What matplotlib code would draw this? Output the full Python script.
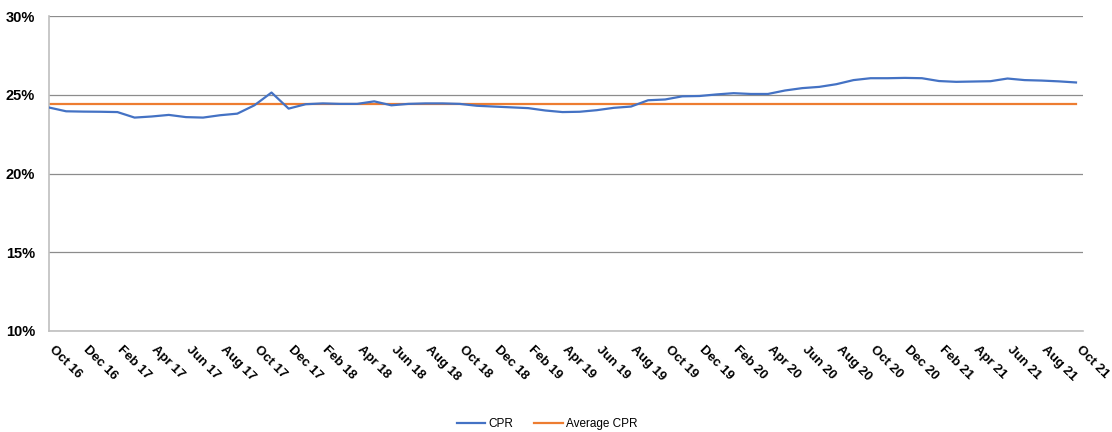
import matplotlib
matplotlib.use("Agg")
import matplotlib.pyplot as plt
from matplotlib.ticker import FuncFormatter
from matplotlib.transforms import ScaledTranslation

plt.rcParams['font.family'] = ['Liberation Sans', 'DejaVu Sans']

months = ["Oct 16", "Nov 16", "Dec 16", "Jan 17", "Feb 17", "Mar 17", "Apr 17", "May 17",
          "Jun 17", "Jul 17", "Aug 17", "Sep 17", "Oct 17", "Nov 17", "Dec 17", "Jan 18",
          "Feb 18", "Mar 18", "Apr 18", "May 18", "Jun 18", "Jul 18", "Aug 18", "Sep 18",
          "Oct 18", "Nov 18", "Dec 18", "Jan 19", "Feb 19", "Mar 19", "Apr 19", "May 19",
          "Jun 19", "Jul 19", "Aug 19", "Sep 19", "Oct 19", "Nov 19", "Dec 19", "Jan 20",
          "Feb 20", "Mar 20", "Apr 20", "May 20", "Jun 20", "Jul 20", "Aug 20", "Sep 20",
          "Oct 20", "Nov 20", "Dec 20", "Jan 21", "Feb 21", "Mar 21", "Apr 21", "May 21",
          "Jun 21", "Jul 21", "Aug 21", "Sep 21", "Oct 21"]

cpr = [24.19, 23.95, 23.93, 23.92, 23.90, 23.55, 23.62, 23.72, 23.58, 23.55,
       23.70, 23.80, 24.33, 25.14, 24.12, 24.40, 24.45, 24.42, 24.42, 24.58,
       24.33, 24.42, 24.45, 24.45, 24.42, 24.30, 24.25, 24.20, 24.15, 24.00,
       23.90, 23.92, 24.02, 24.17, 24.25, 24.65, 24.70, 24.90, 24.92, 25.02,
       25.10, 25.05, 25.05, 25.27, 25.42, 25.50, 25.67, 25.93, 26.05, 26.05,
       26.07, 26.05, 25.87, 25.82, 25.84, 25.86, 26.03, 25.93, 25.90, 25.85,
       25.78]

average_cpr = 24.44

fig = plt.figure(figsize=(11.12, 4.32), dpi=100)
ax = fig.add_axes([49 / 1112, 1 - 331 / 432, (1083 - 49) / 1112, (331 - 16) / 432])

x = list(range(len(months)))
ax.plot(x, cpr, color="#4472C4", lw=1.6, label="CPR", solid_joinstyle="round", zorder=3)
ax.plot(x, [average_cpr] * len(x), color="#ED7D31", lw=1.6, label="Average CPR", zorder=2)

ax.set_ylim(10, 30)
ax.set_xlim(0, len(months) - 1 + 0.41)
ax.set_yticks([10, 15, 20, 25, 30])
ax.yaxis.set_major_formatter(FuncFormatter(lambda v, p: f"{v:.0f}%"))
ax.grid(axis="y", color="#8c8c8c", lw=0.9)
ax.set_axisbelow(True)

for side in ["top", "right"]:
    ax.spines[side].set_visible(False)
ax.spines["left"].set_color("#bfbfbf")
ax.spines["bottom"].set_color("#bfbfbf")
ax.spines["left"].set_linewidth(1.2)
ax.spines["bottom"].set_linewidth(1.2)

ax.tick_params(axis="both", length=0)
ax.tick_params(axis="y", pad=10)
for lbl in ax.get_yticklabels():
    lbl.set_fontsize(10.5)
    lbl.set_fontweight("bold")

tick_pos = x[::2]
ax.set_xticks(tick_pos)
ax.set_xticklabels([months[i] for i in tick_pos], rotation=-45, ha="left", va="top",
                   rotation_mode="anchor", fontsize=9.5, fontweight="bold")
ax.tick_params(axis="x", pad=9)
shift = ScaledTranslation(6 / 100, 0, fig.dpi_scale_trans)
for lbl in ax.get_xticklabels():
    lbl.set_transform(lbl.get_transform() + shift)

fig.legend(loc="center", bbox_to_anchor=(547 / 1112, 1 - 424 / 432), ncol=2, frameon=False,
           fontsize=8.5, handlelength=2.4, columnspacing=1.8, handletextpad=0.25)

fig.savefig("out.png", dpi=100)
